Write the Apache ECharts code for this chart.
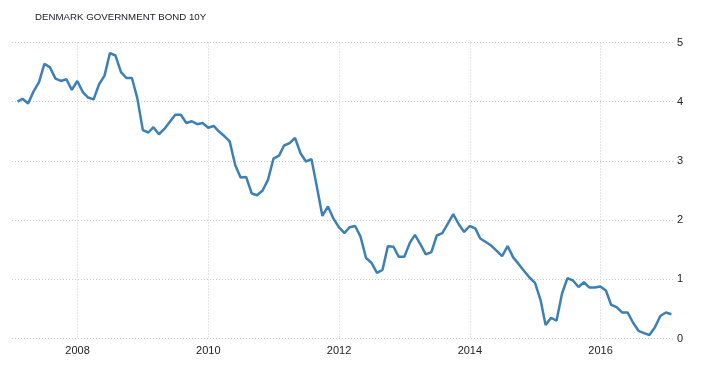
<!DOCTYPE html>
<html>
<head>
<meta charset="utf-8">
<script src="https://cdn.jsdelivr.net/npm/echarts@6/dist/echarts.min.js"></script>
<style>
html,body{margin:0;padding:0;background:#fff;}
#chart{width:705px;height:369px;}
</style>
</head>
<body>
<div id="chart"></div>
<script>
const title = 'DENMARK GOVERNMENT BOND 10Y';
const dates = [
'2007-01-31','2007-02-28','2007-03-31','2007-04-30','2007-05-31','2007-06-30','2007-07-31','2007-08-31','2007-09-30','2007-10-31','2007-11-30','2007-12-31',
'2008-01-31','2008-02-29','2008-03-31','2008-04-30','2008-05-31','2008-06-30','2008-07-31','2008-08-31','2008-09-30','2008-10-31','2008-11-30','2008-12-31',
'2009-01-31','2009-02-28','2009-03-31','2009-04-30','2009-05-31','2009-06-30','2009-07-31','2009-08-31','2009-09-30','2009-10-31','2009-11-30','2009-12-31',
'2010-01-31','2010-02-28','2010-03-31','2010-04-30','2010-05-31','2010-06-30','2010-07-31','2010-08-31','2010-09-30','2010-10-31','2010-11-30','2010-12-31',
'2011-01-31','2011-02-28','2011-03-31','2011-04-30','2011-05-31','2011-06-30','2011-07-31','2011-08-31','2011-09-30','2011-10-31','2011-11-30','2011-12-31',
'2012-01-31','2012-02-29','2012-03-31','2012-04-30','2012-05-31','2012-06-30','2012-07-31','2012-08-31','2012-09-30','2012-10-31','2012-11-30','2012-12-31',
'2013-01-31','2013-02-28','2013-03-31','2013-04-30','2013-05-31','2013-06-30','2013-07-31','2013-08-31','2013-09-30','2013-10-31','2013-11-30','2013-12-31',
'2014-01-31','2014-02-28','2014-03-31','2014-04-30','2014-05-31','2014-06-30','2014-07-31','2014-08-31','2014-09-30','2014-10-31','2014-11-30','2014-12-31',
'2015-01-31','2015-02-28','2015-03-31','2015-04-30','2015-05-31','2015-06-30','2015-07-31','2015-08-31','2015-09-30','2015-10-31','2015-11-30','2015-12-31',
'2016-01-31','2016-02-29','2016-03-31','2016-04-30','2016-05-31','2016-06-30','2016-07-31','2016-08-31','2016-09-30','2016-10-31','2016-11-30','2016-12-31',
'2017-01-31'
];
const yields = [
4.00,4.05,3.97,4.17,4.33,4.64,4.58,4.39,4.35,4.38,4.20,4.35,
4.16,4.07,4.04,4.29,4.44,4.82,4.78,4.50,4.40,4.40,4.06,3.52,
3.48,3.57,3.45,3.54,3.66,3.78,3.78,3.64,3.67,3.62,3.64,3.56,
3.59,3.50,3.42,3.33,2.93,2.72,2.73,2.45,2.42,2.50,2.68,3.04,
3.09,3.26,3.30,3.39,3.13,2.99,3.03,2.55,2.07,2.23,2.03,1.88,
1.78,1.88,1.90,1.72,1.36,1.28,1.11,1.16,1.56,1.55,1.38,1.38,
1.62,1.75,1.59,1.42,1.46,1.74,1.78,1.94,2.10,1.93,1.80,1.90,
1.86,1.69,1.63,1.57,1.48,1.39,1.56,1.37,1.26,1.14,1.03,0.94,
0.65,0.23,0.35,0.30,0.76,1.02,0.98,0.87,0.95,0.86,0.86,0.88,
0.81,0.57,0.53,0.44,0.44,0.27,0.13,0.09,0.06,0.19,0.38,0.44,
0.41
];
const yTicks = [0, 1, 2, 3, 4, 5];
const xRange = ['2006-12-31', '2017-02-20'];

const TWO_YEARS = 2 * 365 * 24 * 3600 * 1000;
const chart = echarts.init(document.getElementById('chart'), null, {renderer: 'canvas'});
chart.setOption({
  animation: false,
  backgroundColor: '#ffffff',
  textStyle: {fontFamily: 'Liberation Sans, Arial, sans-serif'},
  title: {
    text: title,
    left: 35, top: 12, padding: 0,
    textStyle: {fontSize: 9.7, fontWeight: 'normal', color: '#1a1a2a', fontFamily: 'Liberation Sans, Arial, sans-serif'}
  },
  grid: {left: 12, right: 30, top: 42.5, bottom: 30.5, containLabel: false},
  xAxis: {
    type: 'time',
    min: xRange[0], max: xRange[1],
    minInterval: TWO_YEARS, maxInterval: TWO_YEARS,
    axisLine: {show: false},
    axisTick: {show: false},
    axisLabel: {formatter: '{yyyy}', color: '#222', fontSize: 11, margin: 7, hideOverlap: false},
    splitLine: {show: true, showMinLine: false, showMaxLine: false, lineStyle: {color: '#cccccc', type: [1, 2], width: 1}}
  },
  yAxis: {
    type: 'value',
    position: 'right',
    min: yTicks[0], max: yTicks[yTicks.length - 1], interval: 1,
    axisLine: {show: false},
    axisTick: {show: false},
    axisLabel: {color: '#222', fontSize: 11, margin: 2, align: 'left'},
    splitLine: {show: true, lineStyle: {color: '#cccccc', type: [1, 2], width: 1}}
  },
  series: [{
    type: 'line',
    data: dates.map((d, i) => [d, yields[i]]),
    showSymbol: false,
    symbol: 'none',
    lineStyle: {color: '#3d80b4', width: 2.5},
    itemStyle: {color: '#3d80b4'}
  }]
});
</script>
</body>
</html>
